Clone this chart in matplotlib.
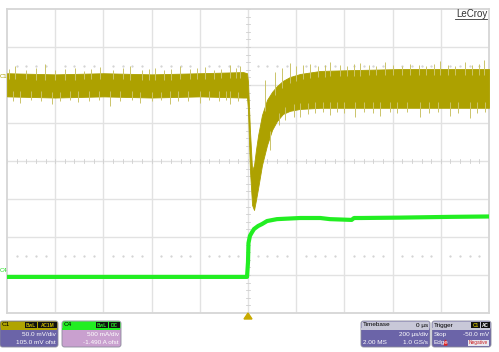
import matplotlib
matplotlib.use("Agg")
import matplotlib.pyplot as plt
from matplotlib.patches import FancyBboxPatch, Rectangle, Polygon
import numpy as np

plt.rcParams['font.family'] = ['Liberation Sans', 'DejaVu Sans']

# ---- data (time in microseconds, vertical in screen divisions) ----
c1_t = [-1000, -800, -600, -400, -200, -20, -4, 0, 8, 17, 25, 33, 42, 58, 79, 100,
        120, 145, 174, 216, 300, 420, 630, 840, 1000]
c1_top = [2.31, 2.28, 2.31, 2.28, 2.31, 2.34, 2.31, 2.08, 0.82, -0.24, -0.11, 0.29,
          0.68, 1.21, 1.61, 1.82, 1.97, 2.11, 2.21, 2.29, 2.37, 2.39, 2.42, 2.42, 2.42]
c1_bot = [1.70, 1.67, 1.70, 1.67, 1.70, 1.67, 1.67, 1.34, -0.24, -1.16, -1.29, -1.03,
          -0.71, -0.11, 0.42, 0.82, 1.05, 1.24, 1.32, 1.37, 1.40, 1.40, 1.40, 1.40, 1.40]

c1_spike_up_t = [-990, -967, -920, -880, -842, -800, -760, -718, -680, -650, -614,
                 -560, -520, -490, -440, -410, -386, -350, -320, -282, -240, -210,
                 -178, -140, -110, -75, -50, -33,
                 71, 110, 140, 174, 200, 230, 257, 290, 320, 340, 380, 410, 440, 465,
                 500, 530, 568, 600, 640, 672, 710, 740, 770, 797, 830, 860, 900,
                 930, 960, 979]
c1_spike_up_y = [2.42, 2.50, 2.40, 2.45, 2.55, 2.40, 2.43, 2.45, 2.38, 2.42, 2.47,
                 2.40, 2.44, 2.50, 2.40, 2.43, 2.45, 2.40, 2.42, 2.50, 2.41, 2.44,
                 2.47, 2.40, 2.42, 2.53, 2.44, 2.50,
                 2.13, 2.35, 2.45, 2.58, 2.50, 2.52, 2.55, 2.50, 2.53, 2.61, 2.52,
                 2.50, 2.55, 2.58, 2.52, 2.50, 2.61, 2.52, 2.50, 2.55, 2.52, 2.50,
                 2.54, 2.63, 2.52, 2.50, 2.61, 2.53, 2.55, 2.66]
c1_spike_dn_t = [-975, -946, -900, -860, -813, -780, -740, -705, -660, -620, -573,
                 -530, -480, -448, -400, -360, -324, -290, -250, -199, -160, -120,
                 -90, -75, -40,
                 91, 130, 154, 190, 216, 250, 280, 310, 340, 370, 400, 444, 480,
                 520, 548, 590, 620, 660, 714, 750, 790, 838, 870, 921, 950, 985]
c1_spike_dn_y = [1.58, 1.53, 1.60, 1.57, 1.50, 1.58, 1.60, 1.55, 1.58, 1.60, 1.45,
                 1.58, 1.60, 1.53, 1.58, 1.60, 1.50, 1.58, 1.57, 1.53, 1.60, 1.58,
                 1.60, 1.50, 1.58,
                 0.29, 0.95, 1.08, 1.15, 1.16, 1.25, 1.26, 1.28, 1.21, 1.28, 1.26,
                 1.16, 1.28, 1.26, 1.18, 1.28, 1.26, 1.28, 1.16, 1.27, 1.28, 1.18,
                 1.27, 1.13, 1.26, 1.28]

c4_t = [-1000, -4, 0, 2, 8, 17, 25, 42, 58, 79, 120, 216, 300, 340, 430, 440, 470,
        630, 840, 1000]
c4_y = [-3.05, -3.05, -2.66, -2.16, -1.97, -1.87, -1.79, -1.71, -1.66, -1.58, -1.53,
        -1.50, -1.50, -1.53, -1.55, -1.50, -1.50, -1.49, -1.47, -1.46]

W, H = 499, 352
fig = plt.figure(figsize=(W / 100, H / 100), dpi=100, facecolor='white')

# plot area in pixels: x 7..489, y 9..313
ax = fig.add_axes([7 / W, (H - 313) / H, 482 / W, 304 / H])
ax.set_xlim(-1000, 1000)
ax.set_ylim(-4, 4)
ax.set_facecolor('white')
for s in ax.spines.values():
    s.set_color('#d6d6d6')
    s.set_linewidth(1.3)
ax.set_xticks([])
ax.set_yticks([])

gcol = '#e2e2e2'
for gx in range(-800, 1000, 200):
    ax.axvline(gx, color=gcol, lw=1.0, zorder=0)
for gy in range(-3, 4):
    ax.axhline(gy, color=gcol, lw=1.0, zorder=0)

# center-line tick marks
for tx in np.arange(-1000, 1001, 40):
    ax.plot([tx, tx], [-0.05, 0.05], color='#cfcfcf', lw=0.6, zorder=0)
for ty in np.arange(-4, 4.01, 0.2):
    ax.plot([-7, 7], [ty, ty], color='#cfcfcf', lw=0.6, zorder=0)
# dotted marker rows
for yy in (2.5, -2.5):
    xs = [x for x in np.arange(-960, 1000, 40) if abs(x / 200 - round(x / 200)) > 1e-6]
    ax.plot(xs, [yy] * len(xs), ls='none', marker='s', ms=0.6, color='#d4d4d4', zorder=0)

# C1 trace
yel = '#ada100'
yel_light = '#cbc46a'
ax.fill_between(c1_t, c1_bot, c1_top, color=yel, lw=0.6, edgecolor=yel, zorder=3)
c1_mid_up = np.interp(c1_spike_up_t, c1_t, c1_top)
c1_mid_dn = np.interp(c1_spike_dn_t, c1_t, c1_bot)
ax.vlines(c1_spike_up_t, c1_mid_up - 0.15, c1_spike_up_y, color=yel_light, lw=0.7, zorder=3)
ax.vlines(c1_spike_dn_t, c1_mid_dn + 0.15, c1_spike_dn_y, color=yel_light, lw=0.7, zorder=3)

# C4 trace
ax.plot(c4_t, c4_y, color='#22ee22', lw=3.0, solid_capstyle='butt', zorder=4)

# ---- overlay in pixel coordinates ----
ov = fig.add_axes([0, 0, 1, 1], zorder=10)
ov.set_xlim(0, W)
ov.set_ylim(H, 0)
ov.axis('off')
ov.patch.set_alpha(0)

ov.text(7, 77, 'C1', color=yel, fontsize=4.3, ha='right', va='center')
ov.text(7, 271, 'C4', color='#22dd22', fontsize=4.3, ha='right', va='center')

ov.text(488, 14, 'LeCroy', color='#333333', fontsize=7, ha='right', va='center')
ov.plot([455, 487], [19, 19], color='#333333', lw=0.6)

ov.add_patch(Polygon([[244, 319], [252, 319], [248, 313]], closed=True, color='#c8aa00'))


def box(x0, x1, y0, ym, y1, hc, bc):
    ov.add_patch(FancyBboxPatch((x0, y0), x1 - x0, y1 - y0,
                                boxstyle='round,pad=0,rounding_size=2.5',
                                fc=bc, ec='#8a8a9a', lw=0.6))
    ov.add_patch(FancyBboxPatch((x0 + 0.5, y0 + 0.5), x1 - x0 - 1, ym - y0,
                                boxstyle='round,pad=0,rounding_size=2',
                                fc=hc, ec='none'))
    ov.add_patch(Rectangle((x0 + 0.5, ym - 1.5), x1 - x0 - 1, 2, fc=hc, ec='none'))


def badge(x0, x1, y0, y1, txt, tc):
    ov.add_patch(Rectangle((x0, y0), x1 - x0, y1 - y0, fc='#111111', ec='none'))
    ov.text((x0 + x1) / 2, (y0 + y1) / 2 + 0.3, txt, color=tc, fontsize=3.4,
            ha='center', va='center', fontweight='bold')


fs = 4.6
purple = '#6b64a8'
# C1 box
box(0, 58, 321, 329, 347, '#b0a400', purple)
ov.text(1.5, 325, 'C1', fontsize=fs, ha='left', va='center', color='black')
badge(25, 37, 322, 328, 'BwL', '#c8b800')
badge(38, 57, 322, 328, 'AC1M', '#c8b800')
ov.text(56, 334.5, '50.0 mV/div', fontsize=fs, ha='right', va='center', color='white')
ov.text(56, 342.5, '105.0 mV ofst', fontsize=fs, ha='right', va='center', color='white')

# C4 box
box(62, 121, 321, 329, 347, '#22ee22', '#c9a0cf')
ov.text(64, 325, 'C4', fontsize=fs, ha='left', va='center', color='black')
badge(96, 108, 322, 328, 'BwL', '#22ee22')
badge(109, 120, 322, 328, 'DC', '#22ee22')
ov.text(119, 334.5, '500 mA/div', fontsize=fs, ha='right', va='center', color='white')
ov.text(119, 342.5, '-1.490 A ofst', fontsize=fs, ha='right', va='center', color='white')

# Timebase box
box(361, 430, 321, 329, 347, '#c8c8d8', purple)
ov.text(363, 325, 'Timebase', fontsize=fs, ha='left', va='center', color='black')
ov.text(428, 325, '0 µs', fontsize=fs, ha='right', va='center', color='black')
ov.text(428, 334.5, '200 µs/div', fontsize=fs, ha='right', va='center', color='white')
ov.text(363, 342.5, '2.00 MS', fontsize=fs, ha='left', va='center', color='white')
ov.text(428, 342.5, '1.0 GS/s', fontsize=fs, ha='right', va='center', color='white')

# Trigger box
box(432, 491, 321, 329, 347, '#c8c8d8', purple)
ov.text(434, 325, 'Trigger', fontsize=fs, ha='left', va='center', color='black')
badge(471, 480, 322, 328, 'C1', '#c8b800')
badge(481, 490, 322, 328, 'AC', '#ffffff')
ov.text(434, 334.5, 'Stop', fontsize=fs, ha='left', va='center', color='white')
ov.text(489, 334.5, '-50.0 mV', fontsize=fs, ha='right', va='center', color='white')
ov.text(434, 342.5, 'Edge', fontsize=fs, ha='left', va='center', color='white')
ov.add_patch(Polygon([[444, 345], [447, 345], [445.5, 340]], closed=True, color='#dd2222'))
ov.add_patch(Rectangle((468, 339.5), 21, 6, fc='#e8e8f0', ec='none'))
ov.text(478.5, 342.6, 'Negative', fontsize=3.4, ha='center', va='center', color='#cc2222')

fig.savefig('out.png', dpi=100, facecolor='white')
